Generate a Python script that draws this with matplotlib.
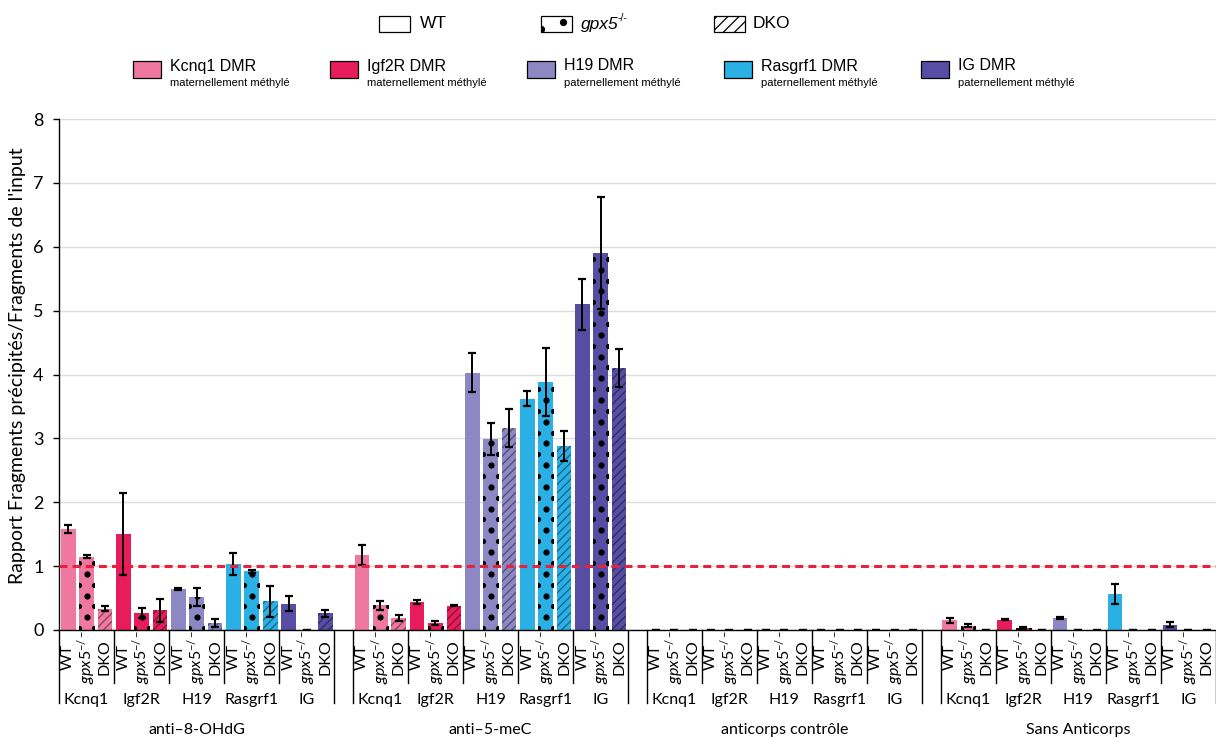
import numpy as np
import matplotlib
matplotlib.use("Agg")
import matplotlib.pyplot as plt
from matplotlib.patches import Rectangle
import matplotlib.colors as mcolors

# ---- data -------------------------------------------------------------
genes = ["Kcnq1", "Igf2R", "H19", "Rasgrf1", "IG"]
genotypes = ["WT", "gpx5", "DKO"]
antibodies = ["anti–8-OHdG", "anti–5-meC", "anticorps contrôle", "Sans Anticorps"]
gene_colors = ["#EE789F", "#E61C5C", "#8D88C4", "#2AB0E4", "#574DA3"]
gene_notes = ["maternellement méthylé", "maternellement méthylé",
              "paternellement méthylé", "paternellement méthylé",
              "paternellement méthylé"]

# values ordered gene by gene: WT, gpx5-/-, DKO
ohdg_mean = [1.58, 1.15, 0.33, 1.50, 0.27, 0.31, 0.64, 0.52, 0.11,
             1.03, 0.92, 0.45, 0.41, 0.00, 0.26]
ohdg_err = [0.06, 0.03, 0.04, 0.64, 0.08, 0.18, 0.01, 0.14, 0.07,
            0.17, 0.02, 0.24, 0.12, 0.00, 0.05]
mec_mean = [1.17, 0.39, 0.19, 0.44, 0.11, 0.38, 4.03, 2.99, 3.16,
            3.62, 3.88, 2.88, 5.10, 5.90, 4.10]
mec_err = [0.16, 0.07, 0.05, 0.03, 0.03, 0.01, 0.31, 0.25, 0.30,
           0.12, 0.53, 0.23, 0.40, 0.88, 0.30]
ctrl_mean = [0.0] * 15
ctrl_err = [0.0] * 15
sans_mean = [0.15, 0.07, 0.00, 0.16, 0.03, 0.00, 0.19, 0.00, 0.00,
             0.56, 0.00, 0.00, 0.08, 0.00, 0.00]
sans_err = [0.04, 0.03, 0.00, 0.01, 0.01, 0.00, 0.01, 0.00, 0.00,
            0.16, 0.00, 0.00, 0.04, 0.00, 0.00]
y_ticks = [0, 1, 2, 3, 4, 5, 6, 7, 8]
threshold = 1.0

group_means = [ohdg_mean, mec_mean, ctrl_mean, sans_mean]
group_errs = [ohdg_err, mec_err, ctrl_err, sans_err]

# ---- style ------------------------------------------------------------
plt.rcParams["font.family"] = ["Lato", "DejaVu Sans"]
plt.rcParams["mathtext.fontset"] = "custom"
plt.rcParams["mathtext.rm"] = "Lato"
plt.rcParams["mathtext.it"] = "Lato:italic"
plt.rcParams["hatch.linewidth"] = 0.9

W, H = 1216, 737
fig = plt.figure(figsize=(W / 100, H / 100), dpi=100)


def fx(px):
    return px / W


def fy(py):
    return 1 - py / H


ax = fig.add_axes([fx(59), fy(630), fx(1157), 511 / H])

n_gen = len(genotypes)
n_cat = len(genes) * n_gen
step = n_cat + 1  # one empty slot between antibody groups


def darker(c, f=0.55):
    r, g, b = mcolors.to_rgb(c)
    return (r * f, g * f, b * f)


xs, hs, es, cols, kinds = [], [], [], [], []
for g in range(len(antibodies)):
    for k in range(len(genes)):
        for j in range(n_gen):
            xs.append(g * step + k * n_gen + j)
            hs.append(group_means[g][k * n_gen + j])
            es.append(group_errs[g][k * n_gen + j])
            cols.append(gene_colors[k])
            kinds.append(j)

bar_w = 0.8
bars = ax.bar(xs, hs, width=bar_w, color=cols, linewidth=0, zorder=2)

dot_step = 0.34
for patch, x, h, c, kind in zip(bars, xs, hs, cols, kinds):
    if kind == 2:
        patch.set_hatch("////")
        patch.set_edgecolor(darker(c))
        patch.set_linewidth(0)
    elif kind == 1 and h > 0:
        yc = np.arange(0.20, h + 0.2, dot_step)
        ye = yc - dot_step / 2
        sc = ax.scatter(np.full_like(yc, x), yc, s=20, color="black",
                        linewidths=0, zorder=3)
        sc.set_clip_path(patch)
        se = ax.scatter(np.concatenate([np.full_like(ye, x - bar_w / 2),
                                        np.full_like(ye, x + bar_w / 2)]),
                        np.concatenate([ye, ye]), s=14, color="black",
                        linewidths=0, zorder=3)
        se.set_clip_path(patch)

ax.errorbar(xs, hs, yerr=es, fmt="none", ecolor="black", elinewidth=1.4,
            capsize=2.6, capthick=1.6, zorder=4)

ax.axhline(threshold, color="#E8223E", lw=2.2, ls=(0, (2.6, 1.7)), zorder=5)

ax.set_xlim(-0.5, len(antibodies) * step - 1 - 0.5 + 1e-9)
ax.set_ylim(0, 8)
ax.set_yticks(y_ticks)
ax.set_yticklabels([str(t) for t in y_ticks], fontsize=13)
ax.yaxis.grid(True, color="#dcdcdc", lw=1)
ax.set_axisbelow(True)
ax.set_xticks([])
for s in ("top", "right"):
    ax.spines[s].set_visible(False)
ax.spines["left"].set_linewidth(1)
ax.spines["bottom"].set_linewidth(1)
ax.tick_params(axis="y", length=4, width=1, pad=7, direction="out")

# ---- category axis labels --------------------------------------------
xt = ax.get_xaxis_transform()
lab_y = -27 / 511
gene_y = -70 / 511
group_y = -100 / 511
gene_sep = -53 / 511
group_sep = -73 / 511
geno_text = ["WT", r"$\mathit{gpx5}^{-/-}$", "DKO"]

for x, kind in zip(xs, kinds):
    ax.text(x, lab_y, geno_text[kind], rotation=90, ha="center", va="center",
            fontsize=11.5, transform=xt)

for g in range(len(antibodies)):
    x0 = g * step - 0.5
    x1 = x0 + n_cat
    for xl in (x0, x1):
        ax.plot([xl, xl], [0, group_sep], color="black", lw=1,
                transform=xt, clip_on=False)
    for k in range(len(genes)):
        if k > 0:
            xl = x0 + k * n_gen
            ax.plot([xl, xl], [0, gene_sep], color="black", lw=1,
                    transform=xt, clip_on=False)
        ax.text(x0 + k * n_gen + n_gen / 2, gene_y, genes[k], ha="center",
                va="center", fontsize=11.5, transform=xt)
    ax.text(x0 + n_cat / 2, group_y, antibodies[g], ha="center", va="center",
            fontsize=11.5, transform=xt)

fig.text(fx(18), fy(366), "Rapport Fragments précipités/Fragments de l'input",
         rotation=90, ha="center", va="center", fontsize=14)

# ---- legends ----------------------------------------------------------
leg_font = ["Liberation Sans", "DejaVu Sans"]


def box(x, y, w, h, **kw):
    r = Rectangle((fx(x), fy(y + h)), fx(w), h / H, transform=fig.transFigure,
                  **kw)
    fig.add_artist(r)
    return r


# genotype legend
box(379, 16, 31, 16, facecolor="white", edgecolor="black", lw=0.9)
fig.text(fx(420), fy(24), "WT", ha="left", va="center", fontsize=12.5,
         family=leg_font)

gb = box(541, 16, 31, 16, facecolor="white", edgecolor="black", lw=0.9)
d = fig.add_artist(plt.Line2D([fx(541), fx(563)], [fy(29), fy(22)], ls="none",
                              marker="o", ms=4.2, color="black",
                              transform=fig.transFigure))
d.set_clip_path(gb)
fig.text(fx(581), fy(24), "gpx5", ha="left", va="center", fontsize=12.5,
         style="italic", family=leg_font)
fig.text(fx(618), fy(18), "-/-", ha="left", va="center", fontsize=7.5,
         family=leg_font)

box(714, 16, 31, 16, facecolor="white", edgecolor="black", lw=0.9,
    hatch="///")
fig.text(fx(753), fy(24), "DKO", ha="left", va="center", fontsize=12.5,
         family=leg_font)

# gene legend
for k, (gname, note) in enumerate(zip(genes, gene_notes)):
    bx = 133 + k * 197
    box(bx, 61, 28, 17, facecolor=gene_colors[k], edgecolor="black", lw=0.9)
    fig.text(fx(bx + 37), fy(66), f"{gname} DMR", ha="left", va="center",
             fontsize=11.5, family=leg_font)
    fig.text(fx(bx + 37), fy(83), note, ha="left", va="center",
             fontsize=8, family=leg_font)

fig.savefig("out.png", dpi=100)
